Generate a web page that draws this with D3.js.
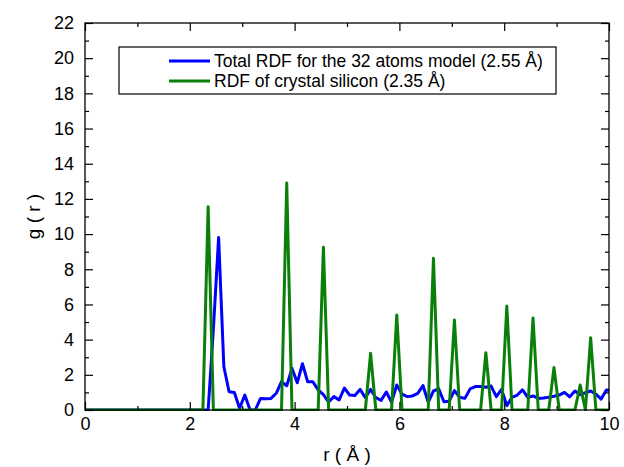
<!DOCTYPE html>
<html>
<head>
<meta charset="utf-8">
<script src="https://cdn.jsdelivr.net/npm/d3@7"></script>
<style>
  body { margin: 0; background: #fff; }
  svg { font-family: "Liberation Sans", Arial, Helvetica, sans-serif; }
  .axis path { display: none; }
  .axis line { stroke: #000; stroke-width: 1.2; }
  .axis text { font-size: 18px; fill: #000; }
</style>
</head>
<body>
<svg id="chart" width="624" height="467"></svg>
<script>
// model RDF (blue), r in Angstrom
var blueR = [0, 2.35, 2.45, 2.55, 2.65, 2.75, 2.85, 2.95, 3.05, 3.15, 3.25, 3.35, 3.45, 3.55, 3.65, 3.75,
  3.85, 3.95, 4.05, 4.15, 4.25, 4.35, 4.45, 4.55, 4.65, 4.75, 4.85, 4.95, 5.05, 5.15, 5.25, 5.35,
  5.45, 5.55, 5.65, 5.75, 5.85, 5.95, 6.05, 6.15, 6.25, 6.35, 6.45, 6.55, 6.65, 6.75, 6.85, 6.95,
  7.05, 7.15, 7.25, 7.35, 7.45, 7.55, 7.65, 7.75, 7.85, 7.95, 8.05, 8.15, 8.25, 8.35, 8.45, 8.55,
  8.65, 8.75, 8.85, 8.95, 9.05, 9.15, 9.25, 9.35, 9.45, 9.55, 9.65, 9.75, 9.85, 9.95, 10.05];
var blueG = [0, 0, 4.6, 9.8, 2.46, 1.04, 1.0, 0.1, 0.85, 0, 0, 0.66, 0.64, 0.66, 0.95, 1.61,
  1.38, 2.37, 1.55, 2.63, 1.6, 1.6, 1.14, 0.87, 0.45, 0.76, 0.57, 1.25, 0.85, 0.82, 1.17, 0.7,
  1.17, 0.7, 0.55, 1.02, 0.45, 1.42, 0.9, 0.76, 0.8, 0.95, 1.39, 0.44, 1.08, 1.2, 0.47, 0.5,
  1.1, 0.72, 0.66, 1.2, 1.33, 1.33, 1.29, 1.36, 0.76, 1.17, 0.25, 0.72, 0.85, 1.14, 0.72, 0.8,
  0.66, 0.68, 0.72, 0.78, 0.85, 1.0, 0.75, 1.08, 0.87, 0.98, 1.08, 0.9, 0.62, 1.14, 1.1];

// crystal silicon RDF (green)
var greenR = [0, 2.25, 2.35, 2.45, 3.75, 3.85, 3.95, 4.45, 4.55, 4.65, 5.35, 5.45, 5.55, 5.85, 5.95, 6.05,
  6.55, 6.65, 6.75, 6.95, 7.05, 7.15, 7.55, 7.65, 7.75, 7.95, 8.05, 8.15, 8.45, 8.55, 8.65,
  8.85, 8.95, 9.05, 9.35, 9.45, 9.55, 9.65, 9.75, 10];
var greenG = [0, 0, 11.56, 0, 0, 12.9, 0, 0, 9.25, 0, 0, 3.22, 0, 0, 5.4, 0,
  0, 8.62, 0, 0, 5.12, 0, 0, 3.26, 0, 0, 5.91, 0, 0, 5.23, 0,
  0, 2.41, 0, 0, 1.42, 0, 4.11, 0, 0];

var xMajor = [0, 2, 4, 6, 8, 10],
    xMinor = [1, 3, 5, 7, 9],
    yMajor = [0, 2, 4, 6, 8, 10, 12, 14, 16, 18, 20, 22],
    yMinor = [1, 3, 5, 7, 9, 11, 13, 15, 17, 19, 21];

var seriesNames = ["Total RDF for the 32 atoms model (2.55 Å)", "RDF of crystal silicon (2.35 Å)"];
var seriesColors = ["#0000ff", "#0a800a"];

var svg = d3.select("#chart"),
    margin = {top: 23, right: 15, bottom: 57, left: 85},
    width = +svg.attr("width") - margin.left - margin.right,
    height = +svg.attr("height") - margin.top - margin.bottom;

var x = d3.scaleLinear().domain([0, 10]).range([0, width]),
    y = d3.scaleLinear().domain([0, 22]).range([height, 0]);

var g = svg.append("g")
    .attr("transform", "translate(" + margin.left + "," + margin.top + ")");

g.append("clipPath").attr("id", "clip")
  .append("rect").attr("width", width).attr("height", height + 2).attr("y", -1);

var line = d3.line()
    .x(function(d) { return x(d[0]); })
    .y(function(d) { return y(d[1]); });

var blue = d3.zip(blueR, blueG),
    green = d3.zip(greenR, greenG);

g.append("path")
    .datum(blue)
    .attr("clip-path", "url(#clip)")
    .attr("fill", "none")
    .attr("stroke", seriesColors[0])
    .attr("stroke-width", 3)
    .attr("stroke-linejoin", "round")
    .attr("d", line);

g.append("path")
    .datum(green)
    .attr("clip-path", "url(#clip)")
    .attr("fill", "none")
    .attr("stroke", seriesColors[1])
    .attr("stroke-width", 3)
    .attr("stroke-linejoin", "round")
    .attr("d", line);

// axes, ticks inward on all four sides
g.append("g").attr("class", "axis")
    .attr("transform", "translate(0," + height + ")")
    .call(d3.axisBottom(x).tickValues(xMajor).tickSize(-8).tickPadding(7).tickFormat(d3.format("d")));
g.append("g").attr("class", "axis")
    .attr("transform", "translate(0," + height + ")")
    .call(d3.axisBottom(x).tickValues(xMinor).tickSize(-4).tickFormat(""));
g.append("g").attr("class", "axis")
    .call(d3.axisTop(x).tickValues(xMajor).tickSize(-8).tickFormat(""));
g.append("g").attr("class", "axis")
    .call(d3.axisTop(x).tickValues(xMinor).tickSize(-4).tickFormat(""));

g.append("g").attr("class", "axis")
    .call(d3.axisLeft(y).tickValues(yMajor).tickSize(-8).tickPadding(11).tickFormat(d3.format("d")));
g.append("g").attr("class", "axis")
    .call(d3.axisLeft(y).tickValues(yMinor).tickSize(-4).tickFormat(""));
g.append("g").attr("class", "axis")
    .attr("transform", "translate(" + width + ",0)")
    .call(d3.axisRight(y).tickValues(yMajor).tickSize(-8).tickFormat(""));
g.append("g").attr("class", "axis")
    .attr("transform", "translate(" + width + ",0)")
    .call(d3.axisRight(y).tickValues(yMinor).tickSize(-4).tickFormat(""));

g.append("rect")
    .attr("width", width)
    .attr("height", height)
    .attr("fill", "none")
    .attr("stroke", "#000")
    .attr("stroke-width", 1.3);

// axis titles
svg.append("text")
    .attr("x", margin.left + width / 2)
    .attr("y", 461)
    .attr("text-anchor", "middle")
    .style("font-size", "19px")
    .text("r ( Å )");

svg.append("text")
    .attr("transform", "translate(" + [40, margin.top + height / 2] + ") rotate(-90)")
    .attr("text-anchor", "middle")
    .style("font-size", "19px")
    .text("g ( r )");

// legend
var legend = svg.append("g").attr("transform", "translate(119,47)");
legend.append("rect")
    .attr("width", 437)
    .attr("height", 47)
    .attr("fill", "#fff")
    .attr("stroke", "#000")
    .attr("stroke-width", 1.2);

var item = legend.selectAll(".item")
    .data(seriesNames)
    .enter().append("g")
    .attr("class", "item")
    .attr("transform", function(d, i) { return "translate(0," + (14 + i * 20) + ")"; });

item.append("line")
    .attr("x1", 50).attr("x2", 91)
    .attr("stroke", function(d, i) { return seriesColors[i]; })
    .attr("stroke-width", 3);

item.append("text")
    .attr("x", 95)
    .attr("dy", "0.35em")
    .style("font-size", "17.5px")
    .text(function(d) { return d; });
</script>
</body>
</html>
